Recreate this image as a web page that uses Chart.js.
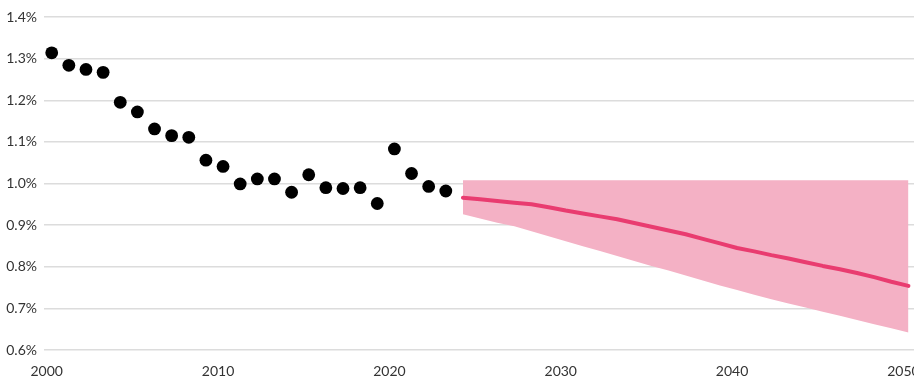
<!DOCTYPE html>
<html>
<head>
<meta charset="utf-8">
<title>Rate history and projection</title>
<script src="https://cdn.jsdelivr.net/npm/chart.js@4/dist/chart.umd.min.js"></script>
<style>
  html, body { margin: 0; padding: 0; overflow: hidden; background: #fff; }
  #wrap { position: relative; width: 940px; height: 379px; }
</style>
</head>
<body>
<div id="wrap"><canvas id="chart"></canvas></div>
<script>
// Observed annual rate (%), 2000–2023
const histYears = [2000, 2001, 2002, 2003, 2004, 2005, 2006, 2007, 2008, 2009, 2010, 2011,
                   2012, 2013, 2014, 2015, 2016, 2017, 2018, 2019, 2020, 2021, 2022, 2023];
const histValues = [1.314, 1.284, 1.274, 1.267, 1.195, 1.172, 1.131, 1.115, 1.111, 1.056, 1.041, 0.999,
                    1.011, 1.011, 0.979, 1.021, 0.990, 0.988, 0.990, 0.952, 1.083, 1.024, 0.993, 0.982];

// Projection (%), 2024–2050: central path and range
const projYears = [2024, 2025, 2026, 2027, 2028, 2029, 2030, 2031, 2032, 2033, 2034, 2035, 2036, 2037,
                   2038, 2039, 2040, 2041, 2042, 2043, 2044, 2045, 2046, 2047, 2048, 2049, 2050];
const projCentral = [0.966, 0.962, 0.958, 0.954, 0.950, 0.943, 0.935, 0.928, 0.921, 0.914, 0.905, 0.896, 0.887, 0.878,
                     0.867, 0.856, 0.845, 0.837, 0.828, 0.820, 0.811, 0.802, 0.794, 0.785, 0.775, 0.764, 0.754];
const projHigh = [1.008, 1.008, 1.008, 1.008, 1.008, 1.008, 1.008, 1.008, 1.008, 1.008, 1.008, 1.008, 1.008, 1.008,
                  1.008, 1.008, 1.008, 1.008, 1.008, 1.008, 1.008, 1.008, 1.008, 1.008, 1.008, 1.008, 1.008];
const projLow = [0.926, 0.916, 0.906, 0.897, 0.885, 0.873, 0.861, 0.849, 0.838, 0.826, 0.814, 0.802, 0.791, 0.779,
                 0.767, 0.755, 0.744, 0.733, 0.722, 0.712, 0.702, 0.692, 0.682, 0.672, 0.662, 0.652, 0.642];

// Axis ticks
const xTicks = [2000, 2010, 2020, 2030, 2040, 2050];
const yTicks = [0.6, 0.7, 0.8, 0.9, 1.0, 1.1, 1.2, 1.3, 1.4];

const pts = (xs, ys) => xs.map((x, i) => ({ x: x, y: ys[i] }));

const PINK_BAND = 'rgb(244,177,197)';
const PINK_LINE = 'rgb(233,60,112)';
const TICK_FONT = { family: 'Lato, "Noto Sans", sans-serif', size: 14 };

new Chart(document.getElementById('chart'), {
  type: 'line',
  data: {
    datasets: [
      {
        label: 'Upper',
        data: pts(projYears, projHigh),
        borderWidth: 0,
        borderColor: 'rgba(0,0,0,0)',
        backgroundColor: PINK_BAND,
        pointRadius: 0,
        fill: '+1',
        order: 3
      },
      {
        label: 'Lower',
        data: pts(projYears, projLow),
        borderWidth: 0,
        borderColor: 'rgba(0,0,0,0)',
        pointRadius: 0,
        fill: false,
        order: 3
      },
      {
        label: 'Projection',
        data: pts(projYears, projCentral),
        borderColor: PINK_LINE,
        borderWidth: 4,
        borderCapStyle: 'round',
        borderJoinStyle: 'round',
        pointRadius: 0,
        fill: false,
        order: 2
      },
      {
        label: 'Observed',
        data: pts(histYears, histValues),
        showLine: false,
        pointRadius: 6.4,
        pointHoverRadius: 6.4,
        pointBackgroundColor: '#000',
        pointBorderWidth: 0,
        order: 1
      }
    ]
  },
  options: {
    responsive: true,
    maintainAspectRatio: false,
    animation: false,
    layout: { padding: { top: 17, right: 11, bottom: 0, left: 0 } },
    plugins: { legend: { display: false }, tooltip: { enabled: false } },
    scales: {
      x: {
        type: 'linear',
        min: 1999.55,
        max: 2051.2,
        afterBuildTicks: (scale) => { scale.ticks = xTicks.map(v => ({ value: v })); },
        afterFit: (scale) => { scale.height = 29; },
        ticks: {
          padding: 13,
          labelOffset: -5,
          color: '#333',
          font: TICK_FONT,
          maxRotation: 0,
          autoSkip: false,
          callback: (v) => String(v)
        },
        grid: { display: false, drawTicks: false, tickLength: 0 },
        border: { display: false }
      },
      y: {
        min: 0.6,
        max: 1.4,
        afterBuildTicks: (scale) => { scale.ticks = yTicks.map(v => ({ value: v })); },
        afterFit: (scale) => { scale.width = 44; },
        ticks: {
          padding: 7,
          color: '#333',
          font: TICK_FONT,
          callback: (v) => v.toFixed(1) + '%'
        },
        grid: { color: '#dcdcdc', lineWidth: 1.5, drawTicks: false },
        border: { display: false }
      }
    }
  }
});
</script>
</body>
</html>
